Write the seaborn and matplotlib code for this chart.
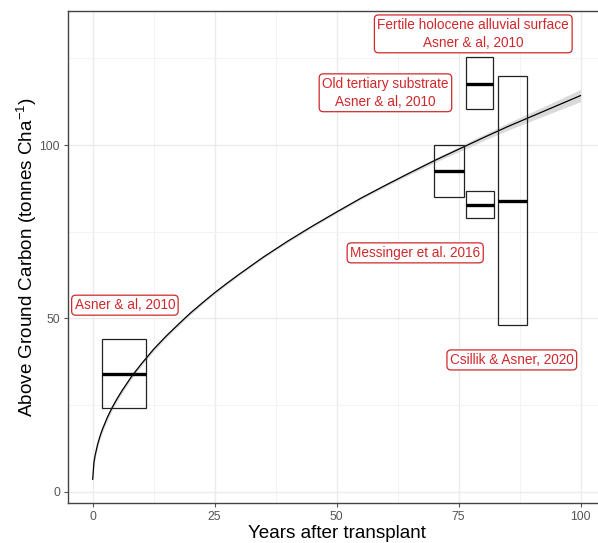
import matplotlib
matplotlib.use("Agg")
import matplotlib.pyplot as plt
import seaborn as sns
import pandas as pd
from matplotlib.ticker import MultipleLocator

# Fitted growth curve of above-ground carbon and the half-width of its confidence band
curve_years = [0, 0.25, 0.5, 1, 1.5, 2, 3, 4, 5, 6, 8, 10, 12.5, 15, 17.5, 20, 22.5, 25,
               27.5, 30, 35, 40, 45, 50, 55, 60, 65, 70, 75, 80, 85, 90, 95, 100]
curve_carbon = [3.5, 8.4, 10.5, 13.6, 16.0, 18.0, 21.4, 24.3, 26.8, 29.1, 33.3, 36.9,
                41.1, 44.8, 48.2, 51.5, 54.5, 57.4, 60.1, 62.7, 67.7, 72.3, 76.6, 80.7,
                84.7, 88.4, 92.0, 95.5, 98.8, 102.1, 105.3, 108.3, 111.3, 114.3]
band_halfwidth = [1.1, 1.05, 1.0, 0.95, 0.9, 0.85, 0.8, 0.75, 0.7, 0.68, 0.63, 0.6,
                  0.55, 0.5, 0.47, 0.45, 0.42, 0.4, 0.38, 0.37, 0.35, 0.34, 0.34, 0.35,
                  0.38, 0.42, 0.5, 0.6, 0.72, 0.88, 1.05, 1.25, 1.5, 1.75]

# Published ranges of above-ground carbon (box extents and medians)
box_xmin = [2, 70, 76.5, 76.5, 83]
box_xmax = [11, 76, 82, 82.3, 89]
box_ymin = [24, 85, 110.5, 79, 48]
box_ymax = [44, 100, 125.3, 86.7, 120]
box_median = [34, 92.5, 117.7, 82.8, 84]

# Source annotations
label_text = [
    "Asner & al, 2010",
    "Old tertiary substrate\nAsner & al, 2010",
    "Fertile holocene alluvial surface\nAsner & al, 2010",
    "Messinger et al. 2016",
    "Csillik & Asner, 2020",
]
label_x = [6.6, 60.0, 78.0, 66.1, 85.9]
label_y = [53.8, 115.1, 132.1, 68.9, 38.0]

x_ticks = [0, 25, 50, 75, 100]
y_ticks = [0, 50, 100]

sns.set_theme(style="white")
plt.rcParams["font.family"] = ["Liberation Sans", "DejaVu Sans"]
plt.rcParams["mathtext.fontset"] = "custom"
plt.rcParams["mathtext.rm"] = "Liberation Sans"
plt.rcParams["mathtext.it"] = "Liberation Sans:italic"

W, H = 598, 543
fig = plt.figure(figsize=(W / 100, H / 100), dpi=100)
left, right, top, bottom = 68.3, 605.0, 11.0, 502.7
ax = fig.add_axes([left / W, (H - bottom) / H, (right - left) / W, (bottom - top) / H])

ax.set_xlim(-5, 105)
ax.set_ylim(-3.2, 138.7)

# grid (major + minor)
ax.xaxis.set_major_locator(MultipleLocator(25))
ax.xaxis.set_minor_locator(MultipleLocator(12.5))
ax.yaxis.set_major_locator(MultipleLocator(50))
ax.yaxis.set_minor_locator(MultipleLocator(25))
ax.grid(which="major", color="#EBEBEB", lw=1.0, zorder=0)
ax.grid(which="minor", color="#F3F3F3", lw=0.7, zorder=0)
ax.set_axisbelow(True)

# confidence band and fitted curve
curve = pd.DataFrame({"years": curve_years, "carbon": curve_carbon, "hw": band_halfwidth})
ax.fill_between(curve["years"], curve["carbon"] - curve["hw"], curve["carbon"] + curve["hw"],
                color="#DADADA", lw=0, zorder=2)
sns.lineplot(data=curve, x="years", y="carbon", color="black", lw=0.9, ax=ax, zorder=3)

# boxes with medians
widths = [b - a for a, b in zip(box_xmin, box_xmax)]
heights = [b - a for a, b in zip(box_ymin, box_ymax)]
ax.bar(box_xmin, heights, width=widths, bottom=box_ymin, align="edge",
       fill=False, edgecolor="#222222", lw=0.9, zorder=4)
ax.hlines(box_median, box_xmin, box_xmax, color="black", lw=2.4, zorder=5)

# source labels
red = "#D0282C"
for t, x, y in zip(label_text, label_x, label_y):
    ax.text(x, y, t, ha="center", va="center", color=red, fontsize=9.8,
            linespacing=1.35, zorder=6,
            bbox=dict(boxstyle="round,pad=0.22,rounding_size=0.3",
                      fc="white", ec=red, lw=0.9))

ax.set_xticks(x_ticks)
ax.set_yticks(y_ticks)
ax.tick_params(which="major", axis="both", length=3, width=0.8, color="#555555",
               labelsize=8.8, labelcolor="#555555", pad=3, bottom=True, left=True)
ax.tick_params(which="minor", length=0)

for side in ["left", "bottom", "top"]:
    ax.spines[side].set_visible(True)
    ax.spines[side].set_color("#444444")
    ax.spines[side].set_linewidth(1.0)
ax.spines["right"].set_visible(False)

ax.set_xlabel("Years after transplant", fontsize=13.6, color="black", labelpad=1.5)
ax.set_ylabel("Above Ground Carbon (tonnes Cha$^{-1}$)", fontsize=13.6,
              color="black", labelpad=0)

fig.savefig("out.png", dpi=100)
